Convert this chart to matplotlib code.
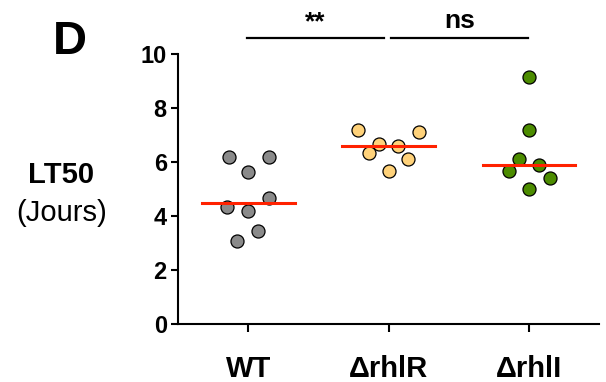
import matplotlib
matplotlib.use("Agg")
import matplotlib.pyplot as plt
import numpy as np

plt.rcParams['font.family'] = ['Liberation Sans', 'DejaVu Sans']

# LT50 values (jours) per strain
groups = ['WT', 'ΔrhlR', 'ΔrhlI']
wt = [6.19, 6.19, 5.63, 4.67, 4.33, 4.19, 3.44, 3.07]
rhlR = [7.20, 7.12, 6.69, 6.61, 6.33, 6.12, 5.68]
rhlI = [9.17, 7.20, 6.12, 5.89, 5.69, 5.42, 5.01]

# horizontal spread of the dots inside each column (swarm layout)
wt_off = [-0.14, 0.15, 0.0, 0.15, -0.15, 0.0, 0.07, -0.08]
rhlR_off = [-0.22, 0.22, -0.07, 0.07, -0.14, 0.14, 0.0]
rhlI_off = [0.0, 0.0, -0.07, 0.07, -0.14, 0.15, 0.0]

values = [wt, rhlR, rhlI]
offsets = [wt_off, rhlR_off, rhlI_off]
colors = ['#8a8a8a', '#ffd27a', '#4c8c00']

fig = plt.figure(figsize=(6.06, 3.82), dpi=100)
ax = fig.add_axes([0.2937, 0.151, 0.695, 0.707])

for i, (vals, offs, c) in enumerate(zip(values, offsets, colors)):
    x = i + np.array(offs)
    ax.scatter(x, vals, s=88, color=c, edgecolor='black', linewidth=0.9, zorder=3)
    med = np.median(vals)
    ax.plot([i - 0.33, i + 0.33], [med, med], color='#ff2200', lw=2.2, zorder=4)

ax.set_xlim(-0.5, 2.5)
ax.set_ylim(0, 10)
ax.set_yticks([0, 2, 4, 6, 8, 10])
ax.set_xticks(range(len(groups)))
ax.set_xticklabels(groups, fontsize=21, fontweight='bold')
for lab in ax.get_yticklabels():
    lab.set_fontsize(17)
    lab.set_fontweight('bold')

for s in ['top', 'right']:
    ax.spines[s].set_visible(False)
for s in ['left', 'bottom']:
    ax.spines[s].set_linewidth(1.5)
ax.tick_params(axis='y', length=5, width=1.5, pad=3)
ax.tick_params(axis='x', length=6, width=1.5, pad=16)

# significance bars
ax.plot([-0.01, 0.97], [10.6, 10.6], color='black', lw=1.6, clip_on=False)
ax.plot([1.02, 1.99], [10.6, 10.6], color='black', lw=1.6, clip_on=False)
ax.text(0.48, 10.72, '**', ha='center', va='bottom', fontsize=19, fontweight='bold')
ax.text(1.51, 10.78, 'ns', ha='center', va='bottom', fontsize=19, fontweight='bold')

fig.text(0.101, 0.543, 'LT50', ha='center', va='center', fontsize=21, fontweight='bold')
fig.text(0.101, 0.443, '(Jours)', ha='center', va='center', fontsize=21)
fig.text(0.115, 0.89, 'D', ha='center', va='center', fontsize=34, fontweight='bold')

fig.savefig('out.png', dpi=100)
